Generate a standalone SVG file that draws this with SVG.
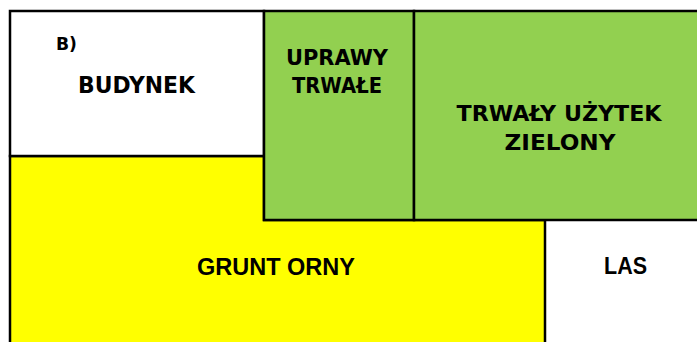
<svg xmlns="http://www.w3.org/2000/svg" width="697" height="342" viewBox="0 0 697 342">
  <style>
    .line { stroke: #000; stroke-width: 2.5; }
    .white { fill: #FFFFFF; }
    .yellow { fill: #FFFF00; }
    .green { fill: #92D050; }
    .t { font-family: "DejaVu Sans", Verdana, sans-serif; font-weight: bold; fill: #000; text-anchor: middle; }
    .a { font-family: "Liberation Sans", Arial, sans-serif; font-weight: bold; fill: #000; }
  </style>
  <rect x="0" y="0" width="697" height="342" fill="#FFFFFF"/>
  <g id="las">
    <rect x="545" y="220" width="160" height="130" class="white"/>
    <text class="a" x="604" y="274" font-size="23" textLength="43" lengthAdjust="spacingAndGlyphs">LAS</text>
  </g>
  <g id="grunt-orny">
    <polygon points="10,156 264,156 264,220 545,220 545,350 10,350" class="yellow line"/>
    <text class="a" x="197" y="275" font-size="23" textLength="158" lengthAdjust="spacingAndGlyphs">GRUNT ORNY</text>
  </g>
  <g id="budynek">
    <rect x="10" y="11" width="254" height="145" class="white line"/>
    <text class="t" x="66.5" y="49.5" font-size="18" textLength="21" lengthAdjust="spacingAndGlyphs">B)</text>
    <text class="t" x="136.5" y="93" font-size="22.5" textLength="117" lengthAdjust="spacingAndGlyphs">BUDYNEK</text>
  </g>
  <g id="uprawy-trwale">
    <rect x="264" y="11" width="150" height="209" class="green line"/>
    <text class="t" x="337" y="65" font-size="21" textLength="102" lengthAdjust="spacingAndGlyphs">UPRAWY</text>
    <text class="t" x="337" y="92.5" font-size="21" textLength="90" lengthAdjust="spacingAndGlyphs">TRWAŁE</text>
  </g>
  <g id="trwaly-uzytek-zielony">
    <rect x="414" y="11" width="300" height="209" class="green line"/>
    <text class="t" x="559" y="121" font-size="22" textLength="205" lengthAdjust="spacingAndGlyphs">TRWAŁY UŻYTEK</text>
    <text class="t" x="560" y="150" font-size="22" textLength="111" lengthAdjust="spacingAndGlyphs">ZIELONY</text>
  </g>
  <g id="connectors"/>
</svg>
